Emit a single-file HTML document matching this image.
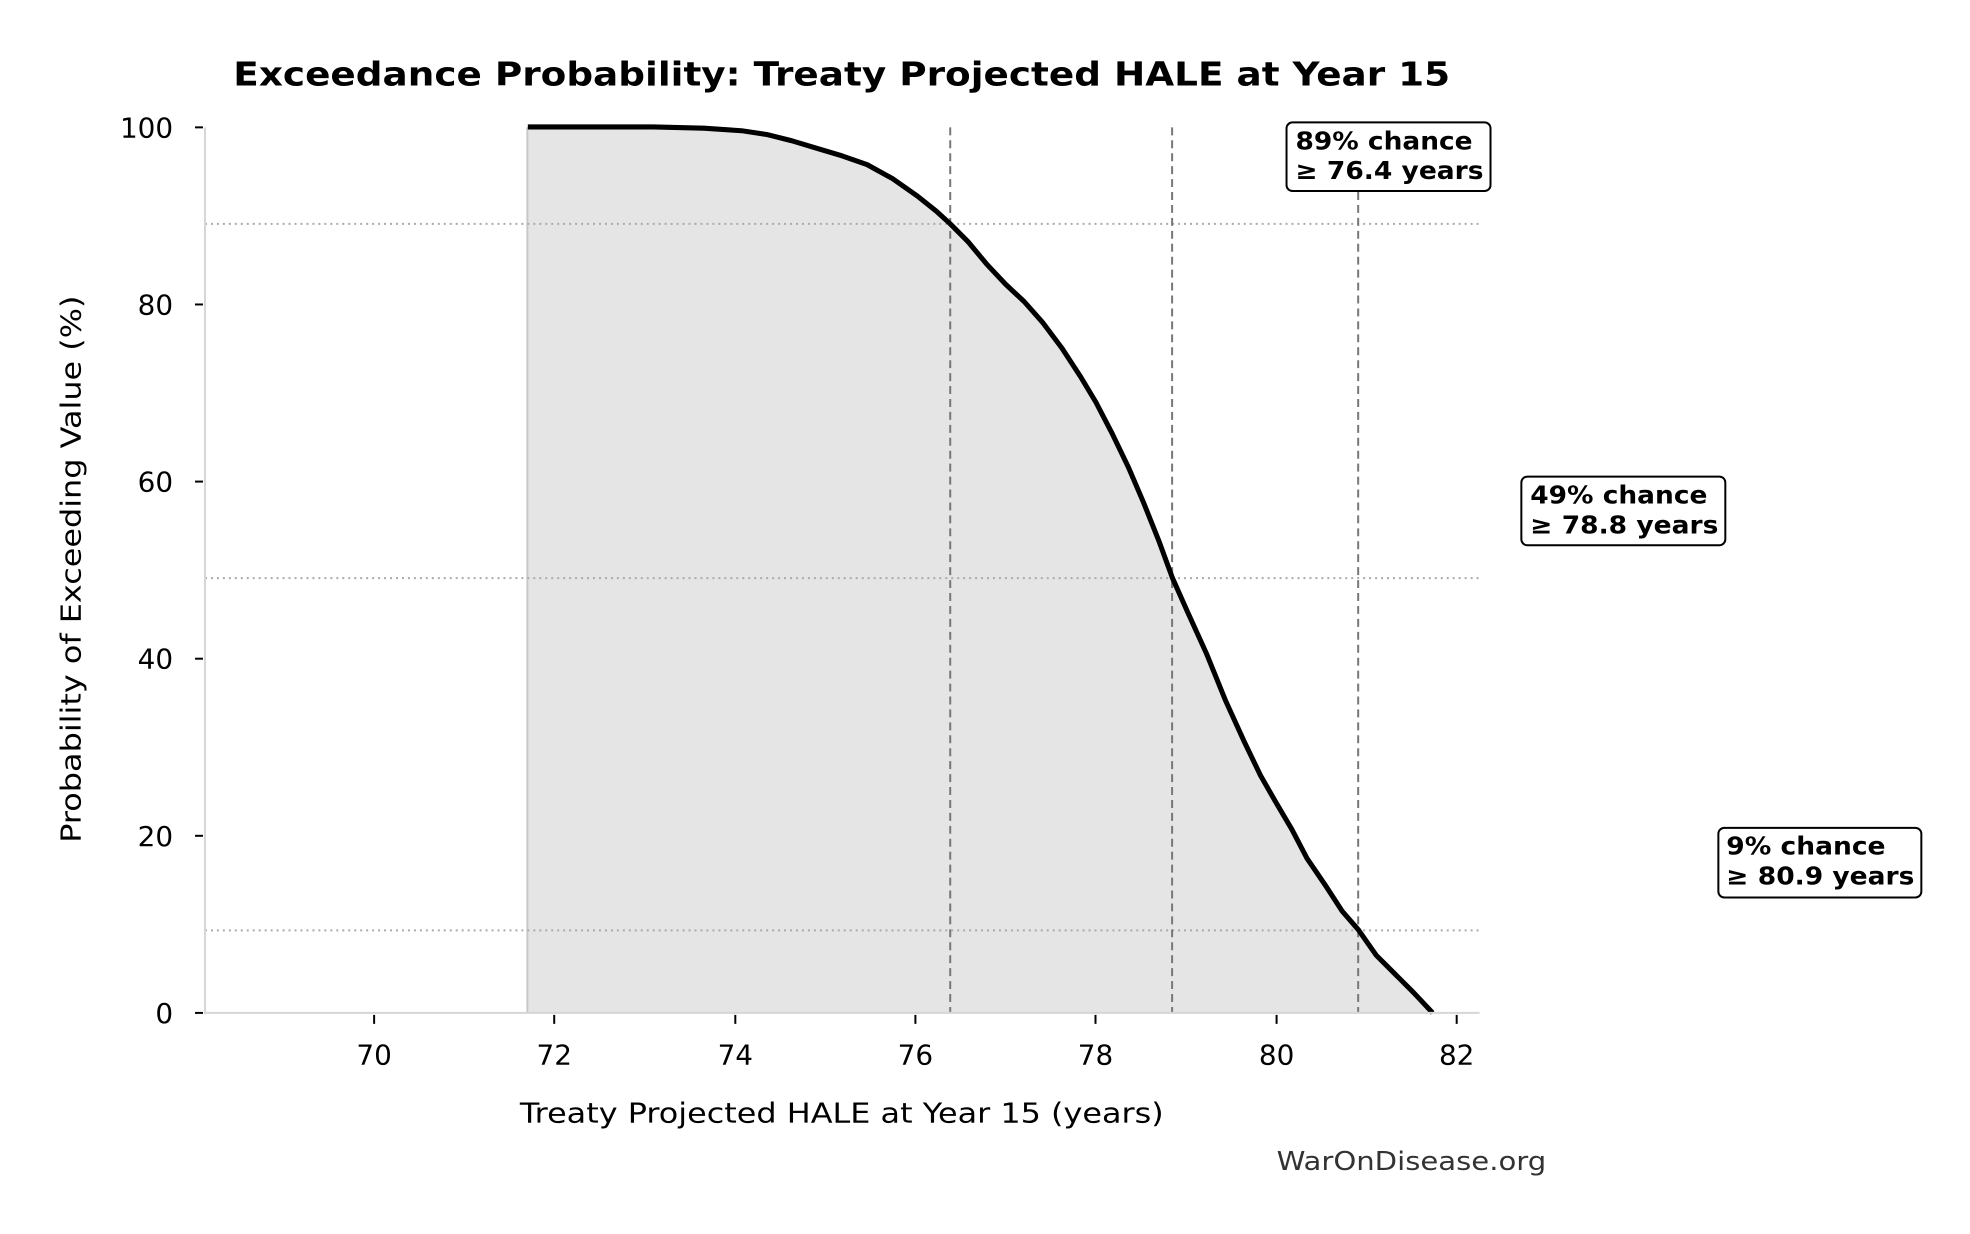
<!DOCTYPE html>
<html><head><meta charset="utf-8"><style>html,body{margin:0;padding:0;background:#fff}svg{display:block}</style></head>
<body>
<svg width="1970" height="1234" viewBox="0 0 1970 1234" xmlns="http://www.w3.org/2000/svg" font-family="DejaVu Sans, Liberation Sans, sans-serif">
<rect width="1970" height="1234" fill="#fff"/>
<g transform="scale(1.2567)">
<polygon points="420,806 420,101 520,101 560,102 590,104 610,107 630,112 650,118 670,124 690,131 710,142 730,156 745,168 756,178 770,192 785,210 800,226 815,240 830,257 845,277 860,300 872,320 885,345 898,372 910,400 922,430 933,460 945,487 960,520 975,557 990,590 1003,617 1015,638 1028,660 1040,683 1055,705 1068,725 1081,740 1095,760 1110,775 1125,790 1140,806" fill="#e5e5e5"/>
</g>
<g transform="scale(0.995)">
<line x1="530" y1="128" x2="530" y2="1018" stroke="#c8c8c8" stroke-width="2"/>
<g stroke="#aaa" stroke-width="2" stroke-dasharray="2,4">
<line x1="206" y1="225" x2="1487" y2="225"/>
<line x1="206" y1="581" x2="1487" y2="581"/>
<line x1="206" y1="935" x2="1487" y2="935"/>
</g>
<g stroke="#777" stroke-width="2" stroke-dasharray="8,5">
<line x1="955" y1="128" x2="955" y2="1018"/>
<line x1="1178" y1="128" x2="1178" y2="1018"/>
<line x1="1365" y1="128" x2="1365" y2="1018"/>
</g>
</g>
<g transform="scale(1.2567)">
<polyline points="420,101 520,101 560,102 590,104 610,107 630,112 650,118 670,124 690,131 710,142 730,156 745,168 756,178 770,192 785,210 800,226 815,240 830,257 845,277 860,300 872,320 885,345 898,372 910,400 922,430 933,460 945,487 960,520 975,557 990,590 1003,617 1015,638 1028,660 1040,683 1055,705 1068,725 1081,740 1095,760 1110,775 1125,790 1140,806" fill="none" stroke="#000" stroke-width="4" stroke-linejoin="round"/>
</g>
<g transform="scale(0.995)">
<text x="846" y="86" text-anchor="middle" font-size="33" font-weight="bold" textLength="1223" lengthAdjust="spacingAndGlyphs">Exceedance Probability: Treaty Projected HALE at Year 15</text>
<line x1="206" y1="128" x2="206" y2="1019" stroke="#d6d6d6" stroke-width="2"/>
<line x1="205" y1="1018" x2="1487" y2="1018" stroke="#d6d6d6" stroke-width="2"/>
<g stroke="#000" stroke-width="2">
<line x1="196" y1="1018" x2="204" y2="1018"/><line x1="196" y1="840" x2="204" y2="840"/><line x1="196" y1="662" x2="204" y2="662"/><line x1="196" y1="484" x2="204" y2="484"/><line x1="196" y1="306" x2="204" y2="306"/><line x1="196" y1="128" x2="204" y2="128"/>
<line x1="376" y1="1020" x2="376" y2="1029"/><line x1="557" y1="1020" x2="557" y2="1029"/><line x1="739" y1="1020" x2="739" y2="1029"/><line x1="920" y1="1020" x2="920" y2="1029"/><line x1="1101" y1="1020" x2="1101" y2="1029"/><line x1="1283" y1="1020" x2="1283" y2="1029"/><line x1="1464" y1="1020" x2="1464" y2="1029"/>
</g>
<g font-size="28" text-anchor="end">
<text x="174" y="1028">0</text><text x="174" y="850">20</text><text x="174" y="672">40</text><text x="174" y="494">60</text><text x="174" y="316">80</text><text x="174" y="138">100</text>
</g>
<g font-size="28" text-anchor="middle">
<text x="376" y="1070">70</text><text x="557" y="1070">72</text><text x="739" y="1070">74</text><text x="920" y="1070">76</text><text x="1101" y="1070">78</text><text x="1283" y="1070">80</text><text x="1464" y="1070">82</text>
</g>
<text x="846" y="1128" font-size="28" text-anchor="middle" textLength="647" lengthAdjust="spacingAndGlyphs">Treaty Projected HALE at Year 15 (years)</text>
<text transform="translate(81,572) rotate(-90)" font-size="28" text-anchor="middle" textLength="550" lengthAdjust="spacingAndGlyphs">Probability of Exceeding Value (%)</text>
<text x="1283" y="1176" font-size="26" fill="#333" textLength="271" lengthAdjust="spacingAndGlyphs">WarOnDisease.org</text>
<g font-size="25" font-weight="bold">
<rect x="1293" y="123" width="205" height="69" rx="6" fill="#fff" stroke="#000" stroke-width="2"/>
<text x="1302" y="150" textLength="178" lengthAdjust="spacingAndGlyphs">89% chance</text><text x="1302" y="180" textLength="189" lengthAdjust="spacingAndGlyphs">≥ 76.4 years</text>
<rect x="1529" y="479" width="205" height="69" rx="6" fill="#fff" stroke="#000" stroke-width="2"/>
<text x="1538" y="506" textLength="178" lengthAdjust="spacingAndGlyphs">49% chance</text><text x="1538" y="536" textLength="189" lengthAdjust="spacingAndGlyphs">≥ 78.8 years</text>
<rect x="1727" y="832" width="204" height="70" rx="6" fill="#fff" stroke="#000" stroke-width="2"/>
<text x="1735" y="859" textLength="160" lengthAdjust="spacingAndGlyphs">9% chance</text><text x="1735" y="889" textLength="189" lengthAdjust="spacingAndGlyphs">≥ 80.9 years</text>
</g>
</g>
</svg>
</body></html>
